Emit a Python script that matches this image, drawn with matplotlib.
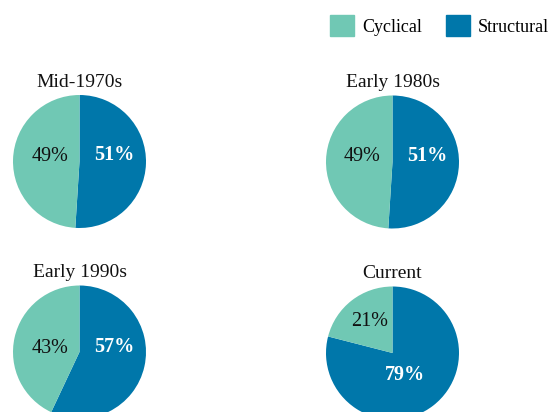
import matplotlib
matplotlib.use("Agg")
import matplotlib.pyplot as plt
from matplotlib.patches import Patch

plt.rcParams['font.family'] = ['Liberation Serif', 'DejaVu Serif']

# data
periods = ['Mid-1970s', 'Early 1980s', 'Early 1990s', 'Current']
structural = [51, 51, 57, 79]
cyclical = [49, 49, 43, 21]
series_names = ['Cyclical', 'Structural']

col_cyc = '#70C8B4'
col_str = '#0077AA'

W, H = 556, 412
fig = plt.figure(figsize=(W / 100, H / 100), dpi=100)

# pie centres in pixels (x, y from top), radius
centres = [(79.5, 161.5), (392.5, 162), (79.5, 352), (392.5, 353)]
r = 66.5
# label offsets in radius units: (structural, cyclical)
lab_pos = [((0.53, 0.10), (-0.44, 0.07)),
           ((0.53, 0.09), (-0.46, 0.09)),
           ((0.53, 0.07), (-0.44, 0.05)),
           ((0.19, -0.33), (-0.34, 0.47))]

for i, name in enumerate(periods):
    cx, cy = centres[i]
    ax = fig.add_axes([(cx - r) / W, (H - cy - r) / H, 2 * r / W, 2 * r / H])
    wedges, texts, autotexts = ax.pie(
        [structural[i], cyclical[i]], colors=[col_str, col_cyc],
        startangle=90, counterclock=False, radius=1,
        autopct='%d%%', textprops={'fontsize': 14.5})
    autotexts[0].set_color('white')
    autotexts[0].set_fontweight('semibold')
    autotexts[1].set_color('#111111')
    for t, p in zip(autotexts, lab_pos[i]):
        t.set_position(p)
    ax.set_xlim(-1, 1)
    ax.set_ylim(-1, 1)
    ax.set_aspect('equal')
    ax.set_title(name, fontsize=14, pad=6, color='#111111')

handles = [Patch(color=col_cyc), Patch(color=col_str)]
fig.legend(handles, series_names, loc='center', bbox_to_anchor=(439.5 / W, 1 - 25.5 / H),
           ncol=2, frameon=False, fontsize=13, handlelength=1.33, handleheight=1.38,
           handletextpad=0.45, columnspacing=1.35, borderpad=0)

fig.savefig('out.png', dpi=100)
